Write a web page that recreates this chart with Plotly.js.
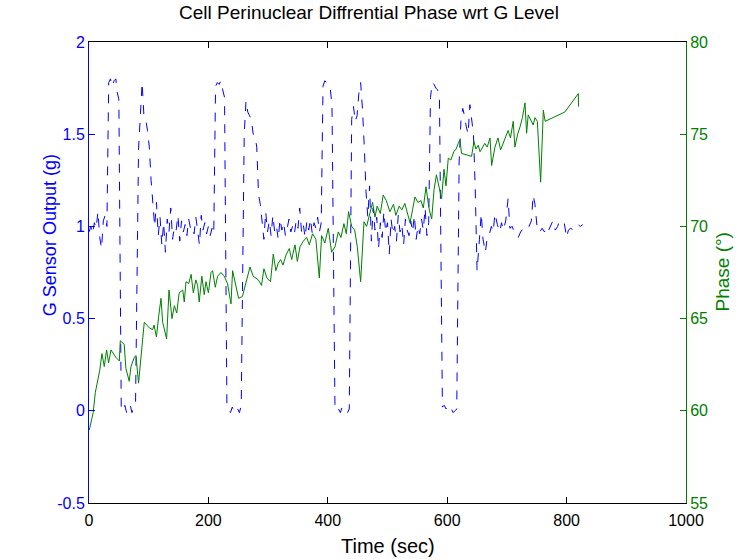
<!DOCTYPE html>
<html>
<head>
<meta charset="utf-8">
<script src="https://cdn.plot.ly/plotly-3.0.1.min.js"></script>
<style>html,body{margin:0;padding:0;background:#fff;}#chart{width:738px;height:559px;}</style>
</head>
<body>
<div id="chart"></div>
<script>
// G sensor output (g) – blue dashed, left axis
var gTime = [0,3,6,9,12,15,18,21,24,27,30,
  33,36,39,42,45,47,50,
  54,57,60,63,66,69,72,75,78,
  83,86,89,92,95,98,101,104,107,
  110,113,116,119,122,125,128,131,134,137,140,143,146,149,152,155,158,161,164,167,170,173,176,179,182,185,188,191,194,197,200,203,206,209,
  212,215,218,221,224,227,
  231,234,237,240,243,246,249,252,255,
  260,263,266,269,272,275,278,281,284,287,
  290,293,296,299,302,305,308,311,314,317,320,323,326,329,332,335,338,341,344,347,350,353,356,359,362,365,368,371,374,377,380,383,386,389,
  392,395,398,401,404,407,
  412,415,418,421,424,427,430,433,436,
  440,443,446,449,452,455,458,461,464,
  467,470,473,476,479,482,485,488,491,494,497,500,503,506,509,512,515,518,521,524,527,530,533,536,539,542,545,548,551,554,557,560,563,566,569,
  572,575,578,581,584,587,
  592,595,598,601,604,607,610,613,616,
  620,623,626,629,632,635,638,641,644,647,
  650,654,657,660,664,667,670,674,677,680,684,688,691,694,698,702,705,709,712,716,719,723,727,730,734,737,741,744,747,751,755,759,763,767,770,774,777,781,785,788,792,796,800,803,807,811,815,819,823,827];
var gValue = [0.97,1.0,0.96,1.02,0.99,1.08,0.94,0.88,1.03,1.06,1.0,
  1.78,1.80,1.76,1.79,1.80,1.73,1.69,
  0.02,0.0,0.03,-0.01,0.01,0.03,-0.01,0.02,0.05,
  1.42,1.62,1.78,1.60,1.58,1.52,1.43,1.25,1.12,
  1.0,1.13,0.95,1.05,0.9,1.02,0.86,1.04,0.97,1.1,0.93,1.0,0.98,1.06,0.92,1.03,0.97,1.01,0.95,1.04,0.99,1.0,0.96,1.05,0.98,0.9,1.06,0.98,1.02,0.96,1.0,0.95,0.99,0.96,
  1.76,1.78,1.77,1.79,1.74,1.70,
  0.03,0.0,-0.01,0.02,0.0,-0.01,0.01,-0.01,0.03,
  1.50,1.68,1.62,1.60,1.58,1.50,1.49,1.43,1.17,1.12,
  1.0,0.93,1.08,0.97,1.03,0.95,1.06,0.97,1.0,0.93,1.04,0.98,1.02,0.95,0.99,1.04,0.97,1.0,0.96,1.03,0.99,1.1,0.97,1.01,0.94,1.03,0.98,1.04,0.96,1.02,0.99,1.05,0.97,1.02,
  1.76,1.79,1.78,1.76,1.75,1.66,
  0.02,0.0,0.01,-0.01,0.02,0.0,0.0,-0.01,0.01,
  1.58,1.65,1.57,1.60,1.72,1.78,1.64,1.44,1.19,
  1.05,1.22,0.92,1.1,0.98,1.05,0.88,1.02,0.94,1.08,0.97,1.02,0.85,1.04,0.96,1.0,0.92,1.06,0.97,1.01,0.9,1.04,0.98,0.95,1.03,0.97,1.06,0.93,1.0,0.96,1.04,0.98,1.1,0.95,1.02,
  1.70,1.78,1.77,1.75,1.74,1.70,
  0.02,0.03,0.01,0.02,0.0,0.01,-0.01,0.0,0.01,
  1.35,1.57,1.64,1.60,1.54,1.50,1.66,1.56,1.50,1.2,
  0.76,0.93,1.07,0.93,0.86,0.94,0.95,1.0,0.97,1.07,1.01,0.97,1.02,0.98,1.03,1.15,0.99,1.0,0.97,0.95,0.94,0.97,0.99,1.0,1.01,1.0,1.03,1.17,1.12,0.98,0.97,0.99,0.97,1.0,0.98,1.01,1.03,0.98,1.0,1.03,1.02,1.02,0.94,0.98,0.99,0.98,1.0,1.01,1.0,1.01];

// Phase (deg) – green solid, right axis
var pTime = [0.5,7,10.6,14.5,18,21.7,25.6,29.5,32.8,36.8,40.7,45,50.8,52.4,59,61.8,67.4,70.3,75.9,78.6,83,87,92.6,101,106.6,109,113,116.6,120.6,123.4,130,134,139,143,147,151,157,159.6,162.5,167,171,174.7,179,182,184.6,189,193,196,200,204.4,207,211.5,215.4,221,226.6,232,237.8,240.5,245,250.6,257,263,269.7,275,280,283.6,289,293,298,304,308.7,313,317,321,325,330,335.5,339.5,345,349,353.4,359,364.6,369,374.5,380,385.8,389.6,395,400.8,406.4,412,417.6,422,427,431,434.8,440,445,449.4,455,460.6,465,470.5,475,479,482.7,488,492.8,498,504,510,514,519.6,524,529,533,537.7,542,546,551,556,560,564.5,568.3,570,574,578,582,586,590.6,594.6,598,601.8,606,611,615,618.5,621.4,624,632,640.8,644.8,648,652,655,663,667,671.7,674.4,680,685,689.5,695,702,706,710.6,713.4,718,722,726,730.3,733,735.7,740,744,747,751,756.5,761,764,797,819.6,820];
var pValue = [58.96,59.9,61.0,61.6,62.2,63.1,62.4,63.3,62.6,63.3,63.1,62.9,62.7,63.8,63.6,62.3,61.6,62.4,62.9,63.0,61.5,63.0,64.8,64.5,64.4,64.65,64.0,65.1,66.1,64.8,63.9,66.55,65.0,65.7,65.3,66.4,66.55,65.9,67.0,66.9,67.4,66.4,67.1,66.8,65.9,67.3,66.3,67.0,66.4,67.5,67.6,66.7,67.3,67.5,67.3,66.9,65.8,67.6,66.9,66.1,66.2,67.0,67.8,67.3,67.2,67.1,66.8,67.7,67.2,67.0,68.5,67.6,68.0,68.2,67.9,68.45,68.8,68.2,69.0,68.1,68.9,69.2,69.4,69.0,69.6,69.3,67.2,69.5,69.1,69.9,68.6,68.9,69.7,69.4,70.15,69.6,70.8,70.0,69.8,68.9,67.0,70.25,70.0,70.7,71.3,70.5,71.1,70.7,71.7,71.4,70.8,71.2,70.6,71.1,70.9,71.25,70.8,70.2,70.9,71.6,71.3,71.4,71.0,72.15,71.25,70.9,70.4,72.0,72.8,72.2,71.5,73.1,72.2,73.7,73.6,74.05,74.2,74.5,74.7,73.96,73.9,73.8,74.6,74.2,74.4,74.05,74.5,74.3,74.8,73.3,74.3,74.8,74.15,74.6,75.2,74.8,75.7,74.3,75.0,75.4,75.9,76.7,75.05,76.05,75.8,75.5,75.9,75.7,72.4,76.3,75.7,76.2,77.2,76.5];

var xTicks = [0,200,400,600,800,1000];
var yTicks = [-0.5,0,0.5,1,1.5,2];
var y2Ticks = [55,60,65,70,75,80];

var BLUE = 'rgb(0,0,255)', GREEN = 'rgb(0,128,0)';
var FONT = 'Liberation Sans, Arial, Helvetica, sans-serif';

var traces = [
  {x: gTime, y: gValue, type: 'scatter', mode: 'lines', yaxis: 'y',
   line: {color: BLUE, width: 1, dash: 'dash'}, hoverinfo: 'none'},
  {x: pTime, y: pValue, type: 'scatter', mode: 'lines', yaxis: 'y2',
   line: {color: GREEN, width: 1}, hoverinfo: 'none'}
];

var layout = {
  width: 738, height: 559,
  margin: {l: 89, r: 52, t: 42, b: 56, pad: 0},
  paper_bgcolor: '#fff', plot_bgcolor: '#fff',
  showlegend: false,
  font: {family: FONT, size: 16, color: '#000'},
  title: {text: 'Cell Perinuclear Diffrential Phase wrt G Level', font: {family: FONT, size: 19, color: '#000'},
          x: 0.5, xref: 'container', xanchor: 'center', y: 1, yref: 'container', yanchor: 'top', pad: {t: 6}},
  xaxis: {range: [0, 1000], tickvals: xTicks, ticktext: xTicks.map(String),
          ticks: 'inside', ticklen: 6, tickcolor: '#000', tickwidth: 1,
          showline: true, linecolor: '#000', linewidth: 1, mirror: 'ticks',
          showgrid: false, zeroline: false, ticklabelstandoff: 3,
          tickfont: {family: FONT, size: 16, color: '#000'}},
  yaxis: {range: [-0.5, 2], tickvals: yTicks, ticktext: yTicks.map(String),
          ticks: 'inside', ticklen: 6, tickcolor: BLUE, tickwidth: 1,
          showline: true, linecolor: BLUE, linewidth: 1,
          showgrid: false, zeroline: false,
          tickfont: {family: FONT, size: 16, color: BLUE}},
  yaxis2: {range: [55, 80], tickvals: y2Ticks, ticktext: y2Ticks.map(String),
           overlaying: 'y', side: 'right',
           ticks: 'inside', ticklen: 6, tickcolor: GREEN, tickwidth: 1,
           showline: true, linecolor: GREEN, linewidth: 1,
           showgrid: false, zeroline: false,
           tickfont: {family: FONT, size: 16, color: GREEN}},
  annotations: [
    {text: 'Time (sec)', xref: 'paper', yref: 'paper', x: 0.5, y: 0, xanchor: 'center', yanchor: 'middle',
     yshift: -43, showarrow: false, font: {family: FONT, size: 20, color: '#000'}},
    {text: 'G Sensor Output (g)', xref: 'paper', yref: 'paper', x: 0, y: 0.581, xanchor: 'center', yanchor: 'middle',
     xshift: -39, textangle: -90, showarrow: false, font: {family: FONT, size: 18, color: BLUE}},
    {text: 'Phase (°)', xref: 'paper', yref: 'paper', x: 1, y: 0.5, xanchor: 'center', yanchor: 'middle',
     xshift: 36, textangle: -90, showarrow: false, font: {family: FONT, size: 19, color: GREEN}}
  ]
};

Plotly.newPlot('chart', traces, layout, {staticPlot: true, displayModeBar: false});
</script>
</body>
</html>
